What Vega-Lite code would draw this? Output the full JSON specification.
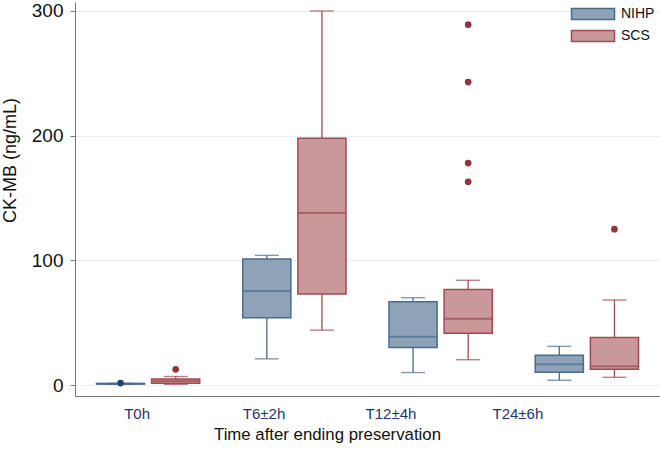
{
  "$schema": "https://vega.github.io/schema/vega-lite/v6.json",
  "width": 585,
  "height": 394,
  "autosize": {"type": "none"},
  "padding": {"left": 75, "top": 2, "right": 0, "bottom": 56},
  "background": "white",
  "datasets": {
    "boxes": [
      {"time": "T0h", "group": "NIHP", "min": 0.6, "q1": 0.8, "median": 1.0, "q3": 1.2, "max": 1.4},
      {"time": "T0h", "group": "SCS", "min": 0.5, "q1": 1.4, "median": 3.2, "q3": 4.8, "max": 6.8},
      {"time": "T6±2h", "group": "NIHP", "min": 21, "q1": 54, "median": 75.5, "q3": 101, "max": 104},
      {"time": "T6±2h", "group": "SCS", "min": 44, "q1": 73, "median": 138, "q3": 198, "max": 300},
      {"time": "T12±4h", "group": "NIHP", "min": 10, "q1": 30, "median": 38.8, "q3": 66.8, "max": 70},
      {"time": "T12±4h", "group": "SCS", "min": 20.3, "q1": 41.5, "median": 53.2, "q3": 76.7, "max": 84},
      {"time": "T24±6h", "group": "NIHP", "min": 3.8, "q1": 10.2, "median": 16.6, "q3": 23.8, "max": 31},
      {"time": "T24±6h", "group": "SCS", "min": 6.2, "q1": 12.6, "median": 15, "q3": 38.2, "max": 68.2}
    ],
    "outliers": [
      {"time": "T0h", "group": "NIHP", "value": 1.6},
      {"time": "T0h", "group": "SCS", "value": 12.6},
      {"time": "T12±4h", "group": "SCS", "value": 289},
      {"time": "T12±4h", "group": "SCS", "value": 243},
      {"time": "T12±4h", "group": "SCS", "value": 178},
      {"time": "T12±4h", "group": "SCS", "value": 163},
      {"time": "T24±6h", "group": "SCS", "value": 125}
    ]
  },
  "config": {
    "view": {"stroke": null},
    "font": "Liberation Sans",
    "axisY": {
      "grid": true,
      "gridColor": "#e9eff2",
      "gridWidth": 1,
      "domainColor": "#777777",
      "tickColor": "#777777",
      "tickSize": 5,
      "labelPadding": 7,
      "labelFontSize": 19,
      "labelColor": "#111111",
      "titleFontSize": 18,
      "titleFontWeight": "normal",
      "titleColor": "#111111",
      "titleX": -56,
      "titleY": 158
    }
  },
  "encoding": {
    "x": {
      "field": "time",
      "type": "nominal",
      "sort": ["T0h", "T6±2h", "T12±4h", "T24±6h"],
      "scale": {"paddingInner": 0, "paddingOuter": 0},
      "axis": {
        "labelAngle": 0,
        "domainColor": "#777777",
        "ticks": false,
        "grid": false,
        "labelColor": "#24356b",
        "labelFontSize": 15,
        "labelPadding": 10,
        "labelOffset": {"expr": "-11 - 58 * datum.index"},
        "title": "Time after ending preservation",
        "titleFontSize": 16.8,
        "titleFontWeight": "normal",
        "titleColor": "#111111",
        "titleX": 252,
        "titleY": 43,
        "titleBaseline": "alphabetic"
      }
    },
    "xOffset": {
      "field": "group",
      "type": "nominal",
      "sort": ["NIHP", "SCS"],
      "scale": {"paddingInner": 0.127, "paddingOuter": 0.39}
    }
  },
  "resolve": {"scale": {"color": "independent"}},
  "layer": [
    {
      "data": {"name": "boxes"},
      "mark": {"type": "rule", "strokeWidth": 1.3},
      "encoding": {
        "y": {"field": "min", "type": "quantitative", "title": "CK-MB (ng/mL)", "axis": {"values": [0, 100, 200, 300]}, "scale": {"domain": [-8.8, 307.2], "nice": false, "zero": false}},
        "y2": {"field": "max"},
        "stroke": {"field": "group", "type": "nominal", "scale": {"domain": ["NIHP", "SCS"], "range": ["#4a6c8f", "#a24a52"]},
          "legend": {"title": null, "orient": "none", "legendX": 511, "legendY": 5, "symbolType": "M-4.3,-1.1H4.3V1.1H-4.3Z", "symbolSize": 100, "symbolStrokeWidth": 1.5, "labelFontSize": 14, "labelOffset": 21, "rowPadding": 4, "padding": 0, "labelColor": "#111111"}}
      }
    },
    {
      "data": {"name": "boxes"},
      "mark": {"type": "tick", "size": 24, "thickness": 1.4},
      "encoding": {
        "y": {"field": "min", "type": "quantitative", "title": "CK-MB (ng/mL)", "axis": {"values": [0, 100, 200, 300]}, "scale": {"domain": [-8.8, 307.2], "nice": false, "zero": false}},
        "color": {"field": "group", "type": "nominal", "scale": {"domain": ["NIHP", "SCS"], "range": ["#4a6c8f", "#a24a52"]}, "legend": null}
      }
    },
    {
      "data": {"name": "boxes"},
      "mark": {"type": "tick", "size": 24, "thickness": 1.4},
      "encoding": {
        "y": {"field": "max", "type": "quantitative", "title": "CK-MB (ng/mL)", "axis": {"values": [0, 100, 200, 300]}, "scale": {"domain": [-8.8, 307.2], "nice": false, "zero": false}},
        "color": {"field": "group", "type": "nominal", "scale": {"domain": ["NIHP", "SCS"], "range": ["#4a6c8f", "#a24a52"]}, "legend": null}
      }
    },
    {
      "data": {"name": "boxes"},
      "mark": {"type": "bar", "strokeWidth": 1.5},
      "encoding": {
        "y": {"field": "q1", "type": "quantitative", "title": "CK-MB (ng/mL)", "axis": {"values": [0, 100, 200, 300]}, "scale": {"domain": [-8.8, 307.2], "nice": false, "zero": false}},
        "y2": {"field": "q3"},
        "fill": {"field": "group", "type": "nominal", "scale": {"domain": ["NIHP", "SCS"], "range": ["#8ea3b8", "#c8989b"]},
          "legend": {"title": null, "orient": "none", "legendX": 511, "legendY": 5, "symbolType": "M-4.3,-1.1H4.3V1.1H-4.3Z", "symbolSize": 100, "symbolStrokeWidth": 1.5, "labelFontSize": 14, "labelOffset": 21, "rowPadding": 4, "padding": 0, "labelColor": "#111111"}},
        "stroke": {"field": "group", "type": "nominal", "scale": {"domain": ["NIHP", "SCS"], "range": ["#4a6c8f", "#a24a52"]},
          "legend": {"title": null, "orient": "none", "legendX": 511, "legendY": 5, "symbolType": "M-4.3,-1.1H4.3V1.1H-4.3Z", "symbolSize": 100, "symbolStrokeWidth": 1.5, "labelFontSize": 14, "labelOffset": 21, "rowPadding": 4, "padding": 0, "labelColor": "#111111"}}
      }
    },
    {
      "data": {"name": "boxes"},
      "mark": {"type": "tick", "size": 48, "thickness": 2},
      "encoding": {
        "y": {"field": "median", "type": "quantitative", "title": "CK-MB (ng/mL)", "axis": {"values": [0, 100, 200, 300]}, "scale": {"domain": [-8.8, 307.2], "nice": false, "zero": false}},
        "color": {"field": "group", "type": "nominal", "scale": {"domain": ["NIHP", "SCS"], "range": ["#4a6c8f", "#a24a52"]}, "legend": null}
      }
    },
    {
      "data": {"name": "outliers"},
      "mark": {"type": "circle", "size": 45, "opacity": 1},
      "encoding": {
        "y": {"field": "value", "type": "quantitative", "title": "CK-MB (ng/mL)", "axis": {"values": [0, 100, 200, 300]}, "scale": {"domain": [-8.8, 307.2], "nice": false, "zero": false}},
        "color": {"field": "group", "type": "nominal", "scale": {"domain": ["NIHP", "SCS"], "range": ["#1a476f", "#90353b"]}, "legend": null}
      }
    }
  ]
}
